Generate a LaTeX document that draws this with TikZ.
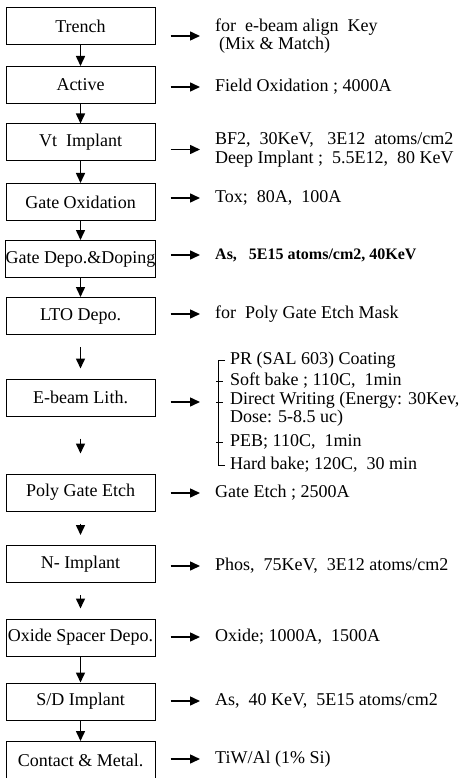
\documentclass[tikz,border=0pt]{standalone}
\usepackage{fontspec}
\setmainfont{Liberation Serif}
\usetikzlibrary{positioning, arrows.meta}

\begin{document}
\begin{tikzpicture}[
    x=1pt, y=-1pt,
    proc/.style={draw, rectangle, minimum width=149pt, minimum height=37pt, inner sep=0pt, line width=1pt, font=\fontsize{18}{20}\selectfont},
    note/.style={anchor=west, inner sep=0pt, align=left, font=\fontsize{18}{19}\selectfont},
    flow/.style={line width=1.5pt, -{Triangle[length=10pt, width=9pt]}},
    side/.style={flow, shorten <=15pt, shorten >=15pt},
    gap/.style={shorten <=12pt, shorten >=10pt},
    brk/.style={line width=1pt},
]
\useasboundingbox (0,0) rectangle (468,778);

% process steps
\node[proc] (tr)   at (80.5, 26.5)  {Trench};
\node[proc] (ac)   at (80.5, 85)    {Active};
\node[proc] (vt)   at (80.5, 142.5) {Vt\ \ Implant};
\node[proc] (gox)  at (80.5, 202)   {Gate Oxidation};
\node[proc] (gdp)  at (80.5, 259)   {Gate Depo.\&Doping};
\node[proc] (lto)  at (80.5, 316)   {LTO Depo.};
\node[proc] (ebl)  at (80.5, 397.5) {E-beam Lith.};
\node[proc] (pge)  at (80.5, 492.5) {Poly Gate Etch};
\node[proc] (nimp) at (80.5, 564)   {N- Implant};
\node[proc] (osp)  at (80.5, 637.5) {Oxide Spacer Depo.};
\node[proc] (sdi)  at (80.5, 701.5) {S/D Implant};
\node[proc] (cm)   at (80.5, 760)   {Contact \& Metal.};

% conditions
\node[note, font=\fontsize{18}{13.5}\selectfont] (trn) at (215, 36) {for\ \ e-beam align\ \ Key\\\hspace*{4pt}(Mix \& Match)};
\node[note] (acn)   at (215, 87)    {Field Oxidation ; 4000A};
\node[note] (vtn)   at (215, 149.5) {BF2,\ \ 30KeV,\ \ \ 3E12\ \ atoms/cm2\\Deep Implant ;\ \ 5.5E12,\ \ 80 KeV};
\node[note] (goxn)  at (215, 198)   {Tox;\ \ 80A,\ \ 100A};
\node[note, font=\bfseries\fontsize{16}{18}\selectfont] (gdpn) at (215, 255) {As,\ \ \ 5E15 atoms/cm2, 40KeV};
\node[note] (lton)  at (215, 314)   {for\ \ Poly Gate Etch Mask};
\node[note] (pr)    at (230, 360)   {PR (SAL 603) Coating};
\node[note] (sb)    at (230, 381)   {Soft bake ; 110C,\ \ 1min};
\node[note, font=\fontsize{18}{14}\selectfont] (dw) at (230, 409) {Direct Writing (Energy: 30Kev,\\Dose: 5-8.5 uc)};
\node[note] (peb)   at (230, 442)   {PEB; 110C,\ \ 1min};
\node[note] (hb)    at (230, 465)   {Hard bake; 120C,\ \ 30 min};
\node[note] (pgen)  at (215, 493)   {Gate Etch ; 2500A};
\node[note] (nimpn) at (215, 566)   {Phos,\ \ 75KeV,\ \ 3E12 atoms/cm2};
\node[note] (ospn)  at (215, 637)   {Oxide; 1000A,\ \ 1500A};
\node[note] (sdin)  at (215, 701)   {As,\ \ 40 KeV,\ \ 5E15 atoms/cm2};
\node[note] (cmn)   at (215, 759)   {TiW/Al (1\% Si)};
\coordinate (dwl) at ([yshift=7pt]dw.west);

% flow
\draw[flow] (tr) -- (ac);
\draw[flow] (ac) -- (vt);
\draw[flow] (vt) -- (gox);
\draw[flow] (gox) -- (gdp);
\draw[flow] (gdp) -- (lto);
\draw[flow, gap] (lto) -- (ebl);
\draw[flow, gap, shorten <=22pt, shorten >=20pt] (ebl) -- (pge);
\draw[flow, gap] (pge) -- (nimp);
\draw[flow, gap] (nimp) -- (osp);
\draw[flow] (osp) -- (sdi);
\draw[flow] (sdi) -- (cm);

\draw[side] (trn.west -| tr.east) -- (trn.west);
\draw[side] (acn.west -| ac.east) -- (acn.west);
\draw[side] (vtn.west -| vt.east) -- (vtn.west);
\draw[side] (goxn.west -| gox.east) -- (goxn.west);
\draw[side] (gdpn.west -| gdp.east) -- (gdpn.west);
\draw[side] (lton.west -| lto.east) -- (lton.west);
\draw[side, shorten >=30pt] (dwl -| ebl.east) -- (dwl);
\draw[side] (pgen.west -| pge.east) -- (pgen.west);
\draw[side] (nimpn.west -| nimp.east) -- (nimpn.west);
\draw[side] (ospn.west -| osp.east) -- (ospn.west);
\draw[side] (sdin.west -| sdi.east) -- (sdin.west);
\draw[side] (cmn.west -| cm.east) -- (cmn.west);

% bracket
\draw[brk] ([xshift=-5pt]pr.west) -| ([xshift=-12pt]hb.west) -- ([xshift=-5pt]hb.west);
\draw[brk] ([xshift=-14pt]sb.west) -- ([xshift=-7pt]sb.west);
\draw[brk] ([xshift=-14pt]dwl) -- ([xshift=-7pt]dwl);
\draw[brk] ([xshift=-14pt]peb.west) -- ([xshift=-7pt]peb.west);
\end{tikzpicture}
\end{document}
